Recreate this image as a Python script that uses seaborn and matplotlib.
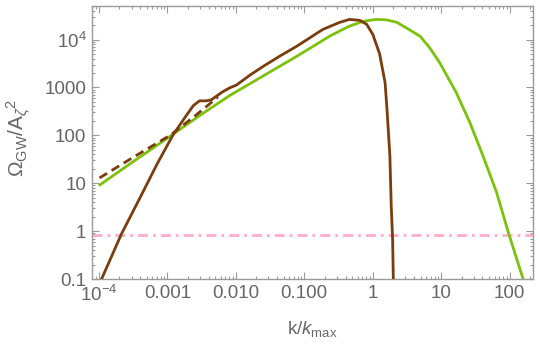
import numpy as np
import pandas as pd
import seaborn as sns
import matplotlib
matplotlib.use("Agg")
import matplotlib.pyplot as plt
from matplotlib.ticker import FixedLocator, FixedFormatter, LogLocator, NullFormatter

# ---- data, as log10(k/k_max) and log10(Omega_GW/A_zeta^2) ----
green_logk = [-4.00, -3.50, -3.00, -2.50, -2.09, -1.60, -1.11, -0.80, -0.63, -0.48,
              -0.34, -0.14, 0.05, 0.20, 0.35, 0.54, 0.69, 0.83, 0.98, 1.22,
              1.42, 1.61, 1.81, 1.98, 2.19, 2.30]
green_logomega = [0.95, 1.45, 1.94, 2.44, 2.83, 3.24, 3.65, 3.92, 4.07, 4.18,
                  4.28, 4.38, 4.42, 4.41, 4.36, 4.20, 4.07, 3.83, 3.51, 2.89,
                  2.26, 1.57, 0.80, -0.03, -0.975, -1.45]

brown_logk = [-4.00, -3.96, -3.67, -3.38, -3.15, -2.92, -2.72, -2.62, -2.53, -2.43,
              -2.36, -2.30, -2.19, -2.09, -1.99, -1.80, -1.60, -1.35, -1.11, -0.73,
              -0.48, -0.34, -0.19, -0.09, 0.00, 0.10, 0.18, 0.21, 0.25, 0.27,
              0.29, 0.30, 0.305]
brown_logomega = [-1.12, -1.00, -0.06, 0.75, 1.40, 2.00, 2.42, 2.62, 2.72, 2.72,
                  2.74, 2.80, 2.91, 2.99, 3.05, 3.25, 3.44, 3.66, 3.86, 4.21,
                  4.36, 4.42, 4.40, 4.32, 4.11, 3.70, 3.10, 2.50, 1.57, 0.52,
                  -0.17, -0.975, -1.30]

dashed_logk = [-3.99, -3.50, -2.96, -2.60, -2.26]
dashed_logomega = [1.11, 1.54, 2.00, 2.40, 2.80]

pink_level = 0.83

x_ticks = [1e-4, 1e-3, 1e-2, 1e-1, 1, 10, 100]
x_labels = [r"$10^{-4}$", "0.001", "0.010", "0.100", "1", "10", "100"]
y_ticks = [0.1, 1, 10, 100, 1000, 1e4]
y_labels = ["0.1", "1", "10", "100", "1000", r"$10^{4}$"]

# ---- style ----
sns.set_style("ticks")
plt.rcParams["font.family"] = ["Liberation Sans", "DejaVu Sans"]
plt.rcParams["mathtext.fontset"] = "custom"
plt.rcParams["mathtext.rm"] = "Liberation Sans"
plt.rcParams["mathtext.it"] = "Liberation Sans:italic"
plt.rcParams["mathtext.sf"] = "Liberation Sans"

GREEN = "#7cc20c"
BROWN = "#7a3d0d"
PINK = "#ffabd0"
GRAY = "#666666"
FRAME = "#9a9a9a"

fig = plt.figure(figsize=(5.4, 3.47), dpi=100)
ax = fig.add_axes([92 / 540, 1 - 279 / 347, (533 - 92) / 540, (279 - 6) / 347])

def frame(logk, logomega):
    return pd.DataFrame({"k": np.power(10.0, logk), "omega": np.power(10.0, logomega)})

df_g = frame(green_logk, green_logomega)
df_b = frame(brown_logk, brown_logomega)
df_d = frame(dashed_logk, dashed_logomega)

ax.axhline(pink_level, color=PINK, lw=2.0, dashes=(3.6, 1.8, 1.0, 1.8), zorder=1)
sns.lineplot(data=df_g, x="k", y="omega", ax=ax, color=GREEN, lw=2.0,
             sort=False, estimator=None, zorder=2)
sns.lineplot(data=df_d, x="k", y="omega", ax=ax, color=BROWN, lw=2.0,
             sort=False, estimator=None, zorder=3)
ax.lines[-1].set_dashes((3.2, 1.9))
sns.lineplot(data=df_b, x="k", y="omega", ax=ax, color=BROWN, lw=2.0,
             sort=False, estimator=None, zorder=4)
for ln in ax.lines:
    ln.set_solid_joinstyle("round")
    ln.set_solid_capstyle("butt")

ax.set_xscale("log")
ax.set_yscale("log")
ax.set_xlim(10 ** -4.10, 10 ** 2.34)
ax.set_ylim(0.1, 10 ** 4.70)

ax.xaxis.set_major_locator(FixedLocator(x_ticks))
ax.xaxis.set_major_formatter(FixedFormatter(x_labels))
ax.yaxis.set_major_locator(FixedLocator(y_ticks))
ax.yaxis.set_major_formatter(FixedFormatter(y_labels))
for axis in (ax.xaxis, ax.yaxis):
    axis.set_minor_locator(LogLocator(base=10, subs=np.arange(2, 10), numticks=20))
    axis.set_minor_formatter(NullFormatter())

ax.tick_params(which="both", direction="in", top=True, right=True,
               colors=FRAME, labelcolor=GRAY, labelsize=13.5, width=0.8)
ax.tick_params(which="major", length=5, pad=4)
ax.tick_params(which="minor", length=2.5)
for s in ax.spines.values():
    s.set_color(FRAME)
    s.set_linewidth(1.0)

ax.set_xlabel(r"k/$\mathit{k}_{\mathrm{max}}$", color=GRAY, fontsize=13.5)
ax.xaxis.set_label_coords(0.5, -(319 - 279) / 273)
ax.set_ylabel(r"$\Omega_{\mathrm{GW}}/\mathrm{A}_{\zeta}{}^{2}$", color=GRAY,
              fontsize=15)
ax.yaxis.set_label_coords(-(92 - 32) / 441, (279 - 138) / 273)

fig.savefig("out.png", dpi=100)
